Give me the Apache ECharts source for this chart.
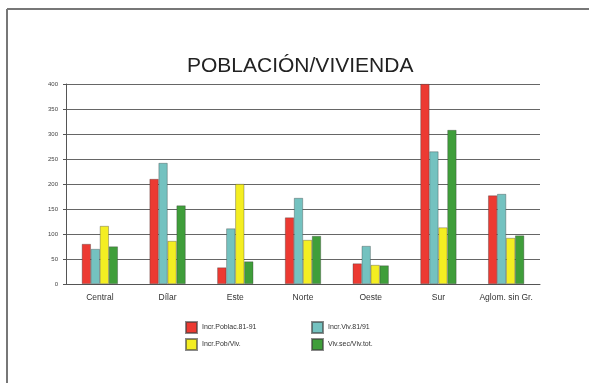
<!DOCTYPE html>
<html><head><meta charset="utf-8">
<script src="https://cdn.jsdelivr.net/npm/echarts@6/dist/echarts.min.js"></script>
<style>html,body{margin:0;padding:0;background:#fff}#c{width:589px;height:383px}</style>
</head><body><div id="c"></div>
<script>
const categories = ['Central','Dílar','Este','Norte','Oeste','Sur','Aglom. sin Gr.'];
const seriesNames = ['Incr.Poblac.81-91','Incr.Viv.81/91','Incr.Pob/Viv.','Viv.sec/Viv.tot.'];
const incrPoblac = [80, 210, 33, 133, 41, 400, 177];
const incrViv = [70, 242, 111, 172, 76, 265, 180];
const incrPobViv = [116, 86, 200, 88, 38, 113, 92];
const vivSec = [75, 157, 45, 96, 37, 308, 97];
const yTicks = [0, 50, 100, 150, 200, 250, 300, 350, 400];

const colors = ['#ec3a32', '#74c2c0', '#f4ee22', '#3f9e3a'];
const values = [incrPoblac, incrViv, incrPobViv, vivSec];
const chart = echarts.init(document.getElementById('c'));
const font = 'Liberation Sans, Arial, sans-serif';
const legendText = { fontFamily: font, fontSize: 7, color: '#333' };
chart.setOption({
  animation: false,
  backgroundColor: '#fff',
  title: { text: 'POBLACIÓN/VIVIENDA', left: 182, top: 51,
    textStyle: { fontFamily: font, fontSize: 21, fontWeight: 'normal', color: '#222' } },
  graphic: [
    { type: 'line', shape: { x1: 7, y1: 9, x2: 589, y2: 9 }, style: { stroke: '#777', lineWidth: 2 } },
    { type: 'line', shape: { x1: 7, y1: 9, x2: 7, y2: 383 }, style: { stroke: '#777', lineWidth: 2 } }
  ],
  legend: [
    { data: [seriesNames[0], seriesNames[2]], orient: 'vertical', left: 180, top: 316, icon: 'rect',
      itemWidth: 11, itemHeight: 11, itemGap: 4, textStyle: legendText },
    { data: [seriesNames[1], seriesNames[3]], orient: 'vertical', left: 306, top: 316, icon: 'rect',
      itemWidth: 11, itemHeight: 11, itemGap: 4, textStyle: legendText }
  ],
  grid: { left: 66, right: 49, top: 84, bottom: 99 },
  xAxis: { type: 'category', data: categories,
    axisLine: { lineStyle: { color: '#555' } },
    axisTick: { alignWithLabel: true, length: 3, lineStyle: { color: '#555' } },
    axisLabel: { interval: 0, fontFamily: font, fontSize: 8.5, color: '#333', margin: 9 } },
  yAxis: { type: 'value', min: 0, max: 400, interval: 50,
    axisLine: { show: true, lineStyle: { color: '#555' } },
    axisTick: { show: true, length: 3, lineStyle: { color: '#555' } },
    axisLabel: { fontFamily: font, fontSize: 6, color: '#444', margin: 8,
      formatter: v => yTicks.includes(v) ? String(v) : '' },
    splitLine: { lineStyle: { color: '#666', width: 1 } } },
  series: seriesNames.map((n, i) => ({
    name: n, type: 'bar', data: values[i], barWidth: 9, barGap: '0%',
    itemStyle: { color: colors[i], borderColor: 'rgba(60,60,60,0.6)', borderWidth: 0.6 }
  }))
});
</script></body></html>
